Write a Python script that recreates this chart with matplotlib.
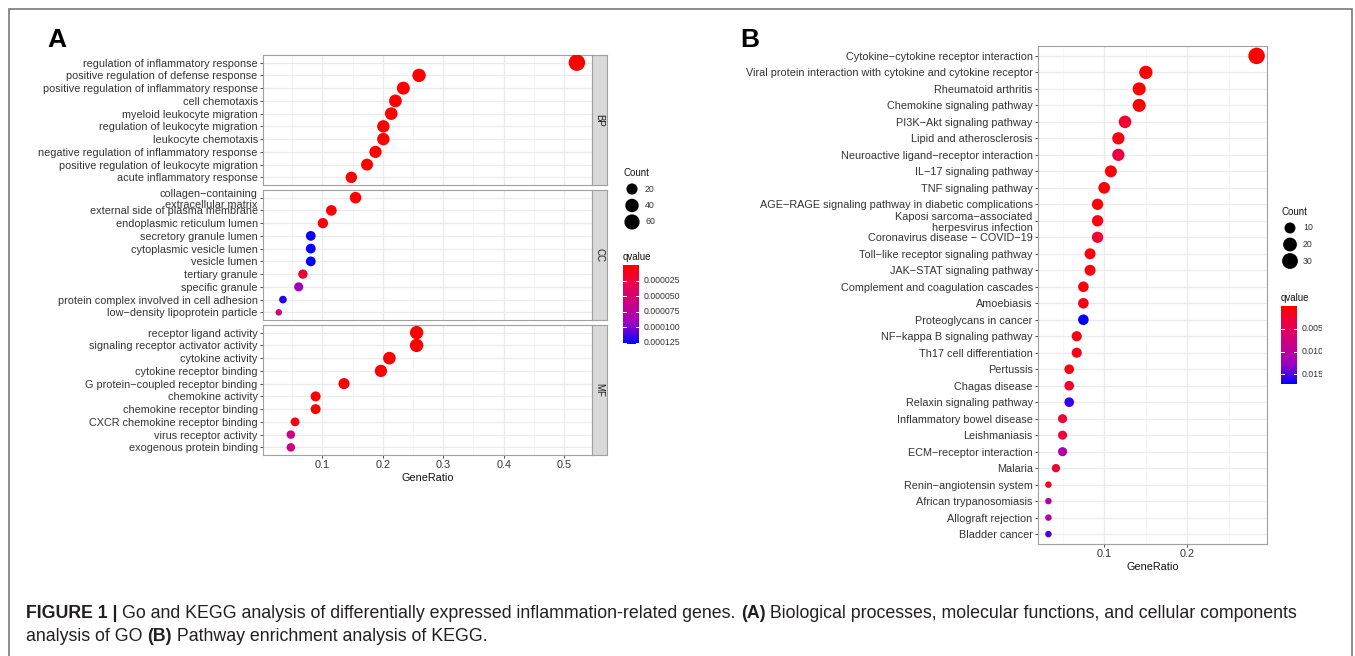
import numpy as np
import matplotlib
matplotlib.use("Agg")
import matplotlib.pyplot as plt
from matplotlib.colors import LinearSegmentedColormap, Normalize
from matplotlib.patches import Rectangle

plt.rcParams['font.family'] = ['Liberation Sans', 'DejaVu Sans']

W, H = 1355, 656
M = "\u2212"  # ggplot draws the hyphens as minus signs

# ---------------- panel A: GO ----------------
bp_terms = ["regulation of inflammatory response",
            "positive regulation of defense response",
            "positive regulation of inflammatory response",
            "cell chemotaxis",
            "myeloid leukocyte migration",
            "regulation of leukocyte migration",
            "leukocyte chemotaxis",
            "negative regulation of inflammatory response",
            "positive regulation of leukocyte migration",
            "acute inflammatory response"]
bp_ratio = [0.521, 0.260, 0.234, 0.221, 0.214, 0.201, 0.201, 0.188, 0.174, 0.148]
bp_count = [78, 39, 35, 33, 32, 30, 30, 28, 26, 22]
bp_q = [1e-20, 1e-12, 1e-11, 1e-11, 1e-11, 1e-10, 1e-10, 1e-10, 1e-9, 1e-8]

cc_terms = ["collagen" + M + "containing\nextracellular matrix",
            "external side of plasma membrane",
            "endoplasmic reticulum lumen",
            "secretory granule lumen",
            "cytoplasmic vesicle lumen",
            "vesicle lumen",
            "tertiary granule",
            "specific granule",
            "protein complex involved in cell adhesion",
            "low" + M + "density lipoprotein particle"]
cc_ratio = [0.155, 0.115, 0.101, 0.081, 0.081, 0.081, 0.068, 0.061, 0.035, 0.028]
cc_count = [23, 17, 15, 12, 12, 12, 10, 9, 5, 4]
cc_q = [1e-8, 2e-7, 5e-6, 1.25e-4, 1.25e-4, 1.27e-4, 1.8e-5, 9.2e-5, 1.2e-4, 5.6e-5]

mf_terms = ["receptor ligand activity",
            "signaling receptor activator activity",
            "cytokine activity",
            "cytokine receptor binding",
            "G protein" + M + "coupled receptor binding",
            "chemokine activity",
            "chemokine receptor binding",
            "CXCR chemokine receptor binding",
            "virus receptor activity",
            "exogenous protein binding"]
mf_ratio = [0.256, 0.256, 0.211, 0.197, 0.136, 0.089, 0.089, 0.055, 0.048, 0.048]
mf_count = [39, 39, 32, 29, 20, 13, 13, 8, 7, 7]
mf_q = [1e-15, 1e-15, 1e-13, 1e-12, 1e-9, 1e-8, 1e-8, 8e-6, 6e-5, 6e-5]

facets = ["BP", "CC", "MF"]

# ---------------- panel B: KEGG ----------------
kegg_terms = ["Cytokine" + M + "cytokine receptor interaction",
              "Viral protein interaction with cytokine and cytokine receptor",
              "Rheumatoid arthritis",
              "Chemokine signaling pathway",
              "PI3K" + M + "Akt signaling pathway",
              "Lipid and atherosclerosis",
              "Neuroactive ligand" + M + "receptor interaction",
              "IL" + M + "17 signaling pathway",
              "TNF signaling pathway",
              "AGE" + M + "RAGE signaling pathway in diabetic complications",
              "Kaposi sarcoma" + M + "associated\nherpesvirus infection",
              "Coronavirus disease " + M + " COVID" + M + "19",
              "Toll" + M + "like receptor signaling pathway",
              "JAK" + M + "STAT signaling pathway",
              "Complement and coagulation cascades",
              "Amoebiasis",
              "Proteoglycans in cancer",
              "NF" + M + "kappa B signaling pathway",
              "Th17 cell differentiation",
              "Pertussis",
              "Chagas disease",
              "Relaxin signaling pathway",
              "Inflammatory bowel disease",
              "Leishmaniasis",
              "ECM" + M + "receptor interaction",
              "Malaria",
              "Renin" + M + "angiotensin system",
              "African trypanosomiasis",
              "Allograft rejection",
              "Bladder cancer"]
kegg_ratio = [0.283, 0.150, 0.142, 0.142, 0.125, 0.117, 0.117, 0.108, 0.100, 0.092,
              0.092, 0.092, 0.083, 0.083, 0.075, 0.075, 0.075, 0.067, 0.067, 0.058,
              0.058, 0.058, 0.050, 0.050, 0.050, 0.042, 0.033, 0.033, 0.033, 0.033]
kegg_count = [34, 18, 17, 17, 15, 14, 14, 13, 12, 11, 11, 11, 10, 10, 9, 9, 9, 8, 8, 7,
              7, 7, 6, 6, 6, 5, 4, 4, 4, 4]
kegg_q = [1e-12, 1e-9, 1e-7, 1e-6, 0.0025, 0.0008, 0.0035, 0.0004, 0.0004, 0.0004,
          0.0012, 0.003, 0.0008, 0.001, 0.0006, 0.0012, 0.0171, 0.0012, 0.0012, 0.0012,
          0.0025, 0.0155, 0.003, 0.003, 0.011, 0.0028, 0.0015, 0.0105, 0.0105, 0.015]

cmap = LinearSegmentedColormap.from_list(
    "redblue", ["#FF0000", "#E80050", "#CA0089", "#9A00C3", "#0000FF"])
TXT = "#333333"

fig = plt.figure(figsize=(W / 100, H / 100), dpi=100)


def px_axes(x0, y0, x1, y1):
    return fig.add_axes([x0 / W, 1 - y1 / H, (x1 - x0) / W, (y1 - y0) / H])


def dot_size(c, cmin, cmax, dmin=6.5, dmax=16.5):
    frac = (np.asarray(c, float) - cmin) / (cmax - cmin)
    d = dmin + (dmax - dmin) * np.sqrt(np.clip(frac, 0, 1))
    return (d * 0.72) ** 2


def style_panel(ax, terms, xlim, major, minor):
    n = len(terms)
    ax.set_xlim(*xlim)
    ax.set_ylim(n - 1 + 0.6, -0.6)
    ax.set_yticks(range(n))
    ax.set_yticklabels(terms)
    ax.set_xticks(major)
    ax.set_xticks(minor, minor=True)
    ax.grid(which='major', color='#EBEBEB', lw=0.9)
    ax.grid(which='minor', axis='x', color='#F3F3F3', lw=0.5)
    ax.set_axisbelow(True)
    for s in ax.spines.values():
        s.set_color('#A0A0A0')
        s.set_linewidth(0.8)
    ax.tick_params(which='major', length=2.3, width=0.6, color=TXT,
                   labelsize=7.8, labelcolor=TXT, pad=1.5)
    ax.tick_params(which='minor', length=0)


# ---- panel A facets ----
a_xlim = (0.002, 0.546)
a_major = [0.1, 0.2, 0.3, 0.4, 0.5]
a_minor = [0.05, 0.15, 0.25, 0.35, 0.45]
a_cmin = min(bp_count + cc_count + mf_count)
a_cmax = max(bp_count + cc_count + mf_count)
a_qmin = min(bp_q + cc_q + mf_q)
a_qmax = max(bp_q + cc_q + mf_q)
a_norm = Normalize(a_qmin, a_qmax)

facet_rows = [(55, 185), (190, 320), (325, 455)]
facet_data = [(bp_terms, bp_ratio, bp_count, bp_q),
              (cc_terms, cc_ratio, cc_count, cc_q),
              (mf_terms, mf_ratio, mf_count, mf_q)]
for i, ((y0, y1), (terms, ratio, count, q)) in enumerate(zip(facet_rows, facet_data)):
    ax = px_axes(263, y0, 592, y1)
    style_panel(ax, terms, a_xlim, a_major, a_minor)
    ax.scatter(ratio, range(len(terms)), s=dot_size(count, a_cmin, a_cmax),
               c=q, cmap=cmap, norm=a_norm, linewidths=0, zorder=3)
    if i < 2:
        ax.tick_params(axis='x', which='both', length=0, labelbottom=False)
    else:
        ax.set_xticklabels(["0.1", "0.2", "0.3", "0.4", "0.5"])
        ax.set_xlabel("GeneRatio", fontsize=7.8, color="#111111", labelpad=2)
    st = px_axes(592, y0, 607, y1)
    st.set_xticks([])
    st.set_yticks([])
    st.set_facecolor('#D9D9D9')
    for s in st.spines.values():
        s.set_color('#A0A0A0')
        s.set_linewidth(0.8)
    st.text(0.5, 0.5, facets[i], rotation=-90, ha='center', va='center',
            fontsize=7, color='#1A1A1A', transform=st.transAxes)

# ---- panel B ----
b_cmin, b_cmax = min(kegg_count), max(kegg_count)
b_norm = Normalize(min(kegg_q), max(kegg_q))
axb = px_axes(1038, 46, 1267, 544)
style_panel(axb, kegg_terms, (0.0205, 0.2955), [0.1, 0.2], [0.05, 0.15, 0.25])
axb.set_xticklabels(["0.1", "0.2"])
axb.set_xlabel("GeneRatio", fontsize=7.8, color="#111111", labelpad=2)
axb.scatter(kegg_ratio, range(len(kegg_terms)), s=dot_size(kegg_count, b_cmin, b_cmax),
            c=kegg_q, cmap=cmap, norm=b_norm, linewidths=0, zorder=3)

# ---- overlay in pixel coordinates: legends, letters, frame ----
ov = fig.add_axes([0, 0, 1, 1])
ov.patch.set_visible(False)
ov.axis('off')


def legend(x, y_count, counts, cmin, cmax, y_bar0, y_bar1, qmin, qmax, qticks, qlabels):
    ov.text(x, y_count, "Count", fontsize=7, color="#111111", va='center', ha='left')
    ys = [y_count + 16 + 16.5 * k for k in range(len(counts))]
    ov.scatter([x + 9] * len(counts), ys, s=dot_size(counts, cmin, cmax),
               color='black', linewidths=0)
    for yy, c in zip(ys, counts):
        ov.text(x + 22, yy, str(c), fontsize=6.3, color=TXT, va='center', ha='left')
    ov.text(x, y_bar0 - 8, "qvalue", fontsize=7, color="#111111", va='center', ha='left')
    grad = np.linspace(0, 1, 512).reshape(-1, 1)
    ov.imshow(grad, cmap=cmap, extent=(x, x + 16, y_bar1, y_bar0), aspect='auto',
              origin='upper', interpolation='antialiased')
    for v, lab in zip(qticks, qlabels):
        yy = y_bar0 + (v - qmin) / (qmax - qmin) * (y_bar1 - y_bar0)
        ov.plot([x, x + 3], [yy, yy], color='white', lw=0.7)
        ov.plot([x + 13, x + 16], [yy, yy], color='white', lw=0.7)
        ov.text(x + 21, yy, lab, fontsize=6.3, color=TXT, va='center', ha='left')


legend(623, 173, [20, 40, 60], a_cmin, a_cmax, 265, 344, a_qmin, a_qmax,
       [0.000025, 0.00005, 0.000075, 0.0001, 0.000125],
       ["0.000025", "0.000050", "0.000075", "0.000100", "0.000125"])
legend(1281, 212, [10, 20, 30], b_cmin, b_cmax, 306, 384, min(kegg_q), max(kegg_q),
       [0.005, 0.010, 0.015], ["0.005", "0.010", "0.015"])

# the KEGG image is cropped on the right in the source figure
ov.add_patch(Rectangle((1322, 295), 29, 100, facecolor='white', edgecolor='none', zorder=5))

ov.text(57, 47, "A", fontsize=19, fontweight='bold', ha='center', va='baseline')
ov.text(750, 47, "B", fontsize=19, fontweight='bold', ha='center', va='baseline')

ov.plot([8.5, 8.5, 1352, 1352], [H, 8.5, 8.5, H], color='#6E6E6E', lw=1.1,
        solid_joinstyle='miter', zorder=6)

ov.set_xlim(0, W)
ov.set_ylim(H, 0)

# ---- caption ----
line1 = [("FIGURE 1 | ", True),
         ("Go and KEGG analysis of differentially expressed inflammation-related genes. ", False),
         ("(A)", True),
         (" Biological processes, molecular functions, and cellular components", False)]
line2 = [("analysis of GO ", False), ("(B)", True), (" Pathway enrichment analysis of KEGG.", False)]

renderer = fig.canvas.get_renderer()


def runs_width(runs, size):
    total = 0
    for txt, bold in runs:
        t = fig.text(0, 0, txt, fontsize=size, fontweight='bold' if bold else 'normal')
        total += t.get_window_extent(renderer=renderer).width
        t.remove()
    return total


def draw_runs(runs, x, y, size):
    for txt, bold in runs:
        t = ov.text(x, y, txt, fontsize=size, fontweight='bold' if bold else 'normal',
                    va='baseline', ha='left', color='#231F20')
        x += t.get_window_extent(renderer=renderer).width


cap_size = 12 * 1275 / runs_width(line1, 12)
draw_runs(line1, 26, 618, cap_size)
draw_runs(line2, 26, 641, cap_size)

fig.savefig("out.png", dpi=100)
